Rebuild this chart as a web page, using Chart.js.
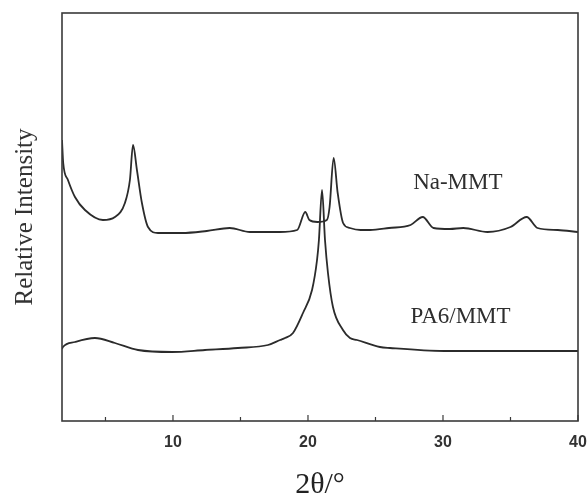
<!DOCTYPE html>
<html>
<head>
<meta charset="utf-8">
<script src="https://cdn.jsdelivr.net/npm/chart.js@4.4.1/dist/chart.umd.min.js"></script>
<style>
  html, body { margin: 0; padding: 0; background: #fff; }
  #wrap { width: 588px; height: 500px; position: relative; }
</style>
</head>
<body>
<div id="wrap"><canvas id="c" width="588" height="500"></canvas></div>
<script>
// ---- data (arbitrary intensity units) ----
const naMmtX = [1.78,1.87,2.22,2.74,3.48,4.81,5.70,6.44,6.81,7.04,7.33,7.70,8.15,8.89,10.67,12.5,14.2,15.7,17.9,19.2,19.8,20.1,20.7,21.4,21.6,21.9,22.2,22.6,23.1,23.9,24.6,26.0,27.6,28.5,29.3,30.5,31.5,33.3,35.0,36.2,37.0,38.5,40.0];
const naMmtY = [281,258,241,224,211,201,204,218,241,276,251,218,194,188,188,190,193,189,189,191,209,201,199,201,214,263,228,198,193,191,191,193,196,204,193,192,193,189,194,204,193,191,189];
const pa6X = [1.78,1.85,2.74,4.22,5.70,7.41,9.93,12.37,14.81,17.04,17.93,18.30,18.89,19.63,20.30,20.67,20.81,21.04,21.26,21.48,21.85,22.59,23.11,23.63,25.33,26.07,30.07,35.0,40.0];
const pa6Y = [72,74,79,83,78,71,69,71,73,76,81,83,88,108,131,161,181,231,181,148,114,91,83,81,74,73,70,70,70];
const seriesNames = ['Na-MMT', 'PA6/MMT'];
const labelAnchorX = [31.1, 31.3];
const labelAnchorY = [238, 104];
const xTickValues = [5,10,15,20,25,30,35,40];
const xTickLabeled = [10,20,30,40];
const xMin = 1.78, xMax = 40, yMin = 0, yMax = 408;

const toPts = (xs, ys) => xs.map((x, i) => ({ x: x, y: ys[i] }));

const framePlugin = {
  id: 'frame',
  afterDatasetsDraw(chart) {
    const { ctx, chartArea: a, scales } = chart;
    ctx.save();
    ctx.strokeStyle = '#3a3a3a';
    ctx.lineWidth = 1.6;
    ctx.strokeRect(a.left, a.top, a.right - a.left, a.bottom - a.top);
    // inward tick marks on bottom axis
    ctx.lineWidth = 1.2;
    xTickValues.forEach(v => {
      const px = scales.x.getPixelForValue(v);
      const len = xTickLabeled.includes(v) ? 6 : 4;
      ctx.beginPath();
      ctx.moveTo(px, a.bottom);
      ctx.lineTo(px, a.bottom - len);
      ctx.stroke();
    });
    // series labels
    ctx.fillStyle = '#2e2e2e';
    ctx.font = '23px "Liberation Serif", serif';
    ctx.textAlign = 'center';
    ctx.textBaseline = 'middle';
    seriesNames.forEach((name, i) => {
      ctx.fillText(name, scales.x.getPixelForValue(labelAnchorX[i]), scales.y.getPixelForValue(labelAnchorY[i]));
    });
    ctx.restore();
  }
};

new Chart(document.getElementById('c'), {
  type: 'line',
  data: {
    datasets: [
      { label: seriesNames[0], data: toPts(naMmtX, naMmtY), borderColor: '#2b2b2b', borderWidth: 1.8, pointRadius: 0, cubicInterpolationMode: 'monotone', fill: false },
      { label: seriesNames[1], data: toPts(pa6X, pa6Y), borderColor: '#2b2b2b', borderWidth: 1.8, pointRadius: 0, cubicInterpolationMode: 'monotone', fill: false }
    ]
  },
  options: {
    responsive: false,
    animation: false,
    devicePixelRatio: 1,
    layout: { padding: { top: 13, right: 0, left: 0, bottom: 0 } },
    plugins: { legend: { display: false }, tooltip: { enabled: false } },
    scales: {
      x: {
        type: 'linear',
        min: xMin, max: xMax,
        afterBuildTicks: (s) => { s.ticks = xTickValues.map(v => ({ value: v })); },
        afterFit: (s) => { s.height = 79; s.paddingRight = 10; s.paddingLeft = 0; },
        grid: { display: false, drawTicks: false },
        border: { display: false },
        ticks: {
          padding: 12,
          maxRotation: 0,
          autoSkip: false,
          color: '#333',
          font: { family: '"Liberation Sans", Arial, sans-serif', size: 16, weight: 'bold' },
          callback: (v) => xTickLabeled.includes(v) ? String(v) : ''
        },
        title: {
          display: true,
          text: '2θ/°',
          color: '#222',
          font: { family: '"Liberation Serif", serif', size: 30, lineHeight: 1 },
          padding: { top: 0, bottom: 0 }
        }
      },
      y: {
        type: 'linear',
        min: yMin, max: yMax,
        afterFit: (s) => { s.width = 62; },
        grid: { display: false, drawTicks: false },
        border: { display: false },
        ticks: { display: false },
        title: {
          display: true,
          text: 'Relative Intensity',
          color: '#333',
          font: { family: '"Liberation Serif", serif', size: 25, lineHeight: 1 },
          padding: { top: 13, bottom: 0 }
        }
      }
    }
  },
  plugins: [framePlugin]
});
</script>
</body>
</html>
